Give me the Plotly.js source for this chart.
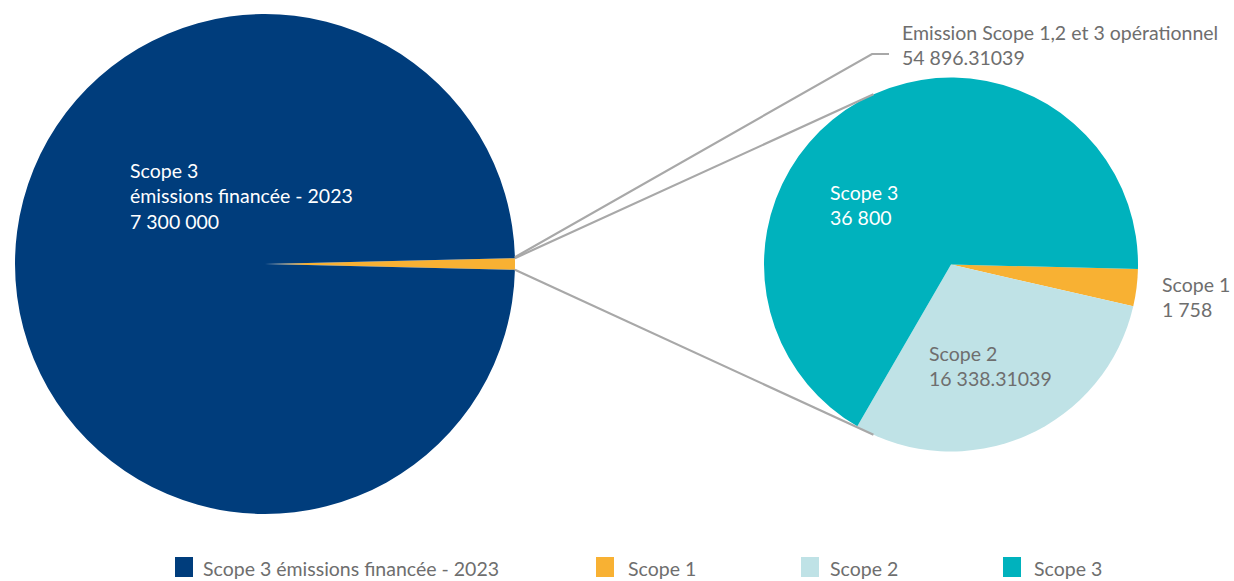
<!DOCTYPE html>
<html>
<head>
<meta charset="utf-8">
<script src="https://cdn.plot.ly/plotly-3.0.1.min.js"></script>
<style>html,body{margin:0;padding:0;background:#fff;}#chart{width:1234px;height:581px;}</style>
</head>
<body>
<div id="chart"></div>
<script>
// ---- data ----
const leftLabels = ["Emission Scope 1,2 et 3 opérationnel", "Scope 3 émissions financée - 2023"];
const leftValues = [54896.31039, 7300000];
const leftText = ["54 896.31039", "7 300 000"];
const rightLabels = ["Scope 1", "Scope 2", "Scope 3"];
const rightValues = [1758, 16338.31039, 36800];
const rightText = ["1 758", "16 338.31039", "36 800"];
const legendLabels = ["Scope 3 émissions financée - 2023", "Scope 1", "Scope 2", "Scope 3"];
const colLeft = ["#F8B133", "#003D7C"];
const colRight = ["#F8B133", "#BFE2E6", "#00B2BD"];
const legendColors = ["#003D7C", "#F8B133", "#BFE2E6", "#00B2BD"];

// ---- layout geometry (pixels) ----
const W = 1234, H = 581;
const L = {cx: 265, cy: 264, r: 250};
const R = {cx: 951, cy: 264.5, r: 187};
const px = x => x / W;
const py = y => 1 - y / H;
function domainOf(c) {
  return {x: [px(c.cx - c.r), px(c.cx + c.r)], y: [py(c.cy + c.r), py(c.cy - c.r)]};
}
const totalLeft = leftValues.reduce((a, b) => a + b, 0);
const smallDeg = 360 * leftValues[0] / totalLeft;
const leftRotation = 90 - smallDeg / 2;
const rightRotation = 91.4;

function pt(c, deg) {
  const a = deg * Math.PI / 180;
  return [c.cx + c.r * Math.sin(a), c.cy - c.r * Math.cos(a)];
}
const lTop = pt(L, leftRotation);
const lBot = pt(L, leftRotation + smallDeg);
const rTop = pt(R, 335.5);
const rBot = pt(R, 204.5);

const font = "Lato, 'Open Sans', sans-serif";
const fsize = 19.5;
const gray = "#6E6E6E";
const lineCol = "#A8A8A8";

const traces = [
  {
    type: "pie", labels: leftLabels, values: leftValues, sort: false,
    direction: "clockwise", rotation: leftRotation,
    marker: {colors: colLeft, line: {width: 0}},
    textinfo: "none", hoverinfo: "label+value", showlegend: false,
    domain: domainOf(L)
  },
  {
    type: "pie", labels: rightLabels, values: rightValues, sort: false,
    direction: "clockwise", rotation: rightRotation,
    marker: {colors: colRight, line: {width: 0}},
    textinfo: "none", hoverinfo: "label+value", showlegend: false,
    domain: domainOf(R)
  }
];

const P = (x, y) => px(x).toFixed(5) + "," + py(y).toFixed(5);
const shapes = [
  {type: "path", xref: "paper", yref: "paper",
   path: "M" + P(lTop[0], lTop[1] - 1) + " L" + P(872, 54) + " L" + P(889, 54),
   line: {color: lineCol, width: 2.2}},
  {type: "line", xref: "paper", yref: "paper",
   x0: px(lTop[0]), y0: py(lTop[1]), x1: px(rTop[0]), y1: py(rTop[1]),
   line: {color: lineCol, width: 2.2}},
  {type: "line", xref: "paper", yref: "paper",
   x0: px(lBot[0]), y0: py(lBot[1]), x1: px(rBot[0]), y1: py(rBot[1]),
   line: {color: lineCol, width: 2.2}}
];

const legendX = [175, 596, 801, 1003];
const legendTextX = [203, 628, 830, 1034];
const legendY = 567;
legendLabels.forEach((lab, i) => {
  shapes.push({type: "rect", xref: "paper", yref: "paper",
    x0: px(legendX[i]), x1: px(legendX[i] + 18), y0: py(legendY + 10), y1: py(legendY - 10),
    fillcolor: legendColors[i], line: {width: 0}});
});

function ann(x, y, text, color) {
  return {xref: "paper", yref: "paper", x: px(x), y: py(y), xanchor: "left", yanchor: "middle",
    align: "left", showarrow: false, text: text, font: {family: font, size: fsize, color: color}};
}
const annotations = [
  ann(128, 196, "Scope 3<br>émissions financée - 2023<br>" + leftText[1], "#FFFFFF"),
  ann(900, 45, leftLabels[0] + "<br>" + leftText[0], gray),
  ann(828, 205, rightLabels[2] + "<br>" + rightText[2], "#FFFFFF"),
  ann(1160, 297, rightLabels[0] + "<br>" + rightText[0], gray),
  ann(927, 366, rightLabels[1] + "<br>" + rightText[1], gray)
];
legendLabels.forEach((lab, i) => {
  annotations.push(ann(legendTextX[i] - 2, legendY + 1, lab, gray));
});

const layout = {
  width: W, height: H,
  margin: {l: 0, r: 0, t: 0, b: 0},
  paper_bgcolor: "#FFFFFF",
  showlegend: false,
  shapes: shapes,
  annotations: annotations,
  font: {family: font}
};
Plotly.newPlot("chart", traces, layout, {displayModeBar: false, staticPlot: true});
</script>
</body>
</html>
